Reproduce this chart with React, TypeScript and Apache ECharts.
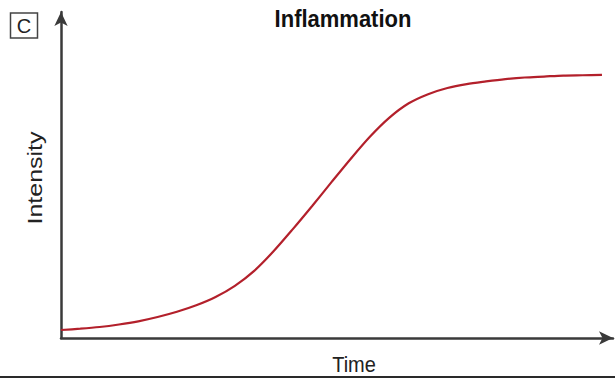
import React, { useEffect, useRef } from "react";
import * as echarts from "echarts";

const timeValues = [0, 3.5, 7, 10.5, 14, 17.5, 21, 24.5, 28, 31.5, 35, 38.5, 42, 45.5, 49, 52.5, 56, 59.5, 63, 66.5, 70, 73.5, 77, 80.5, 84, 87.5, 91, 94.5, 98];
const intensityValues = [2.45, 2.85, 3.37, 4.14, 5.12, 6.44, 8.04, 10.03, 12.58, 16.0, 20.6, 26.6, 33.4, 40.5, 47.8, 55.0, 61.8, 67.6, 72.0, 74.8, 76.7, 77.9, 78.7, 79.4, 79.9, 80.2, 80.5, 80.6, 80.7];
const titleText = "Inflammation";
const panelLabel = "C";
const xName = "Time";
const yName = "Intensity";

export default function App() {
  const ref = useRef<HTMLDivElement>(null);
  useEffect(() => {
    document.body.style.margin = "0";
    const chart = echarts.init(ref.current!, null, { renderer: "svg" });
    const axisColor = "#3a3a3a";
    const font = "'Liberation Sans', Arial, sans-serif";
    chart.setOption({
      animation: false,
      backgroundColor: "#ffffff",
      grid: { left: 61, right: 2, top: 12, bottom: 41 },
      xAxis: {
        type: "value",
        min: 0,
        max: 100,
        axisLine: { show: true, lineStyle: { color: axisColor, width: 2.5 }, symbol: ["none", "arrow"], symbolSize: [10, 14] },
        axisTick: { show: false },
        axisLabel: { show: false },
        splitLine: { show: false },
      },
      yAxis: {
        type: "value",
        min: 0,
        max: 100,
        axisLine: { show: true, lineStyle: { color: axisColor, width: 2.5 }, symbol: ["none", "arrow"], symbolSize: [10, 14] },
        axisTick: { show: false },
        axisLabel: { show: false },
        splitLine: { show: false },
      },
      series: [
        {
          type: "line",
          smooth: 0.3,
          showSymbol: false,
          symbol: "none",
          lineStyle: { color: "#b3202b", width: 2.2 },
          data: timeValues.map((t, i) => [t, intensityValues[i]]),
        },
      ],
      graphic: [
        { type: "rect", shape: { x: 10.5, y: 13, width: 27, height: 25 }, style: { fill: "none", stroke: "#444", lineWidth: 1.5 } },
        { type: "text", x: 24, y: 26, style: { text: panelLabel, font: `20px ${font}`, fill: "#222", align: "center", verticalAlign: "middle" } },
        { type: "text", x: 343, y: 19, scaleY: 1.1, style: { text: titleText, font: `bold 22px ${font}`, fill: "#111", align: "center", verticalAlign: "middle" } },
        { type: "text", x: 354, y: 364, scaleY: 1.1, style: { text: xName, font: `20px ${font}`, fill: "#222", align: "center", verticalAlign: "middle" } },
        { type: "text", x: 35, y: 178, rotation: Math.PI / 2, scaleX: 1.25, style: { text: yName, font: `20px ${font}`, fill: "#222", align: "center", verticalAlign: "middle" } },
        { type: "line", shape: { x1: 0, y1: 377, x2: 615, y2: 377 }, style: { stroke: "#2a2a2a", lineWidth: 2 } },
      ],
    });
    return () => chart.dispose();
  }, []);
  return <div ref={ref} style={{ width: 615, height: 379 }} />;
}
